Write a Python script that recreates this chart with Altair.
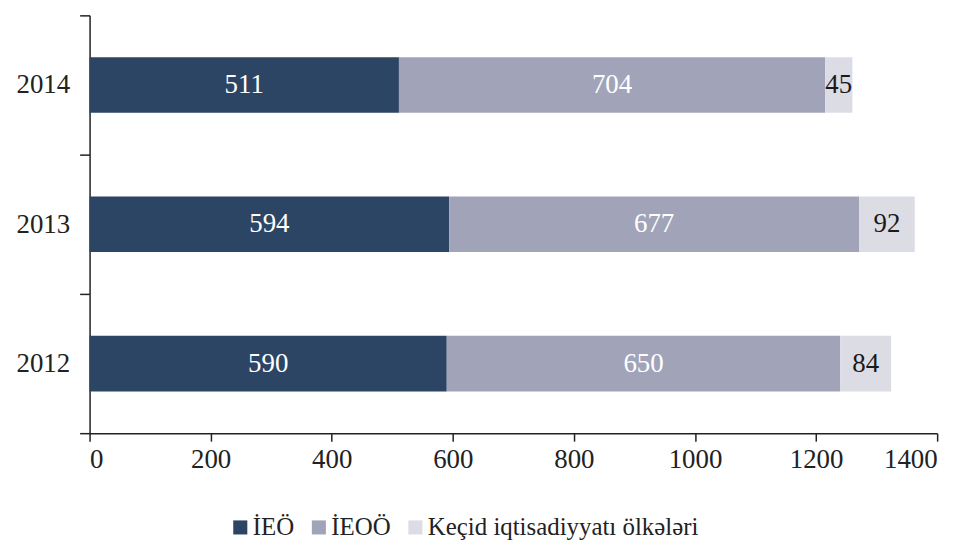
import altair as alt
import pandas as pd

years = ["2014", "2013", "2012"]
series = ["İEÖ", "İEOÖ", "Keçid iqtisadiyyatı ölkələri"]
ieo = [511, 594, 590]
ieoo = [704, 677, 650]
kecid = [45, 92, 84]
colors = ["#2d4565", "#a1a4b9", "#dcdce5"]
label_colors = ["white", "white", "#1a1a1a"]

rows = []
for i, y in enumerate(years):
    for j, (s, vals) in enumerate(zip(series, [ieo, ieoo, kecid])):
        rows.append({"year": y, "series": s, "value": vals[i], "ord": j, "lc": label_colors[j]})
df = pd.DataFrame(rows)

FONT = "Liberation Serif"

base = alt.Chart(df).transform_stack(
    stack="value", groupby=["year"], as_=["x0", "x1"], sort=[alt.SortField("ord")]
)

y_enc = alt.Y("year:N", sort=years, title=None,
              scale=alt.Scale(paddingInner=0, paddingOuter=0),
              axis=alt.Axis(tickBand="extent", tickSize=10, labelFontSize=27,
                            labelFont=FONT, labelColor="#222", labelPadding=10,
                            domainColor="#222", tickColor="#222", domainWidth=1.5, tickWidth=1.5))

bars = base.mark_bar(height={"band": 0.4}).encode(
    x=alt.X("x0:Q", title=None,
            scale=alt.Scale(domain=[0, 1400]),
            axis=alt.Axis(values=[0, 200, 400, 600, 800, 1000, 1200, 1400], tickSize=8,
                          format="d",
                          labelFontSize=27, labelFont=FONT, labelColor="#222", grid=False,
                          labelPadding=6, domainColor="#222", tickColor="#222",
                          domainWidth=1.5, tickWidth=1.5)),
    x2="x1:Q",
    y=y_enc,
    color=alt.Color("series:N", sort=series,
                    scale=alt.Scale(domain=series, range=colors),
                    legend=alt.Legend(title=None, orient="none", direction="horizontal",
                                      legendX=139, legendY=502, symbolType="square",
                                      symbolSize=200, symbolStrokeWidth=0, labelFont=FONT,
                                      labelFontSize=25, labelColor="#222", columnPadding=12,
                                      labelOffset=0, labelLimit=400)),
)

labels = base.transform_calculate(mid="(datum.x0 + datum.x1) / 2").mark_text(
    font=FONT, fontSize=27
).encode(
    x="mid:Q",
    y=alt.Y("year:N", sort=years),
    text="value:Q",
    color=alt.Color("lc:N", scale=None),
)

chart = alt.layer(bars, labels).properties(
    width=852, height=420,
    autosize=alt.AutoSizeParams(type="none"),
    padding={"left": 82, "top": 6, "right": 28, "bottom": 110}
).configure_view(stroke=None)

chart.save("out.html", embed_options={"renderer": "svg", "actions": False})
